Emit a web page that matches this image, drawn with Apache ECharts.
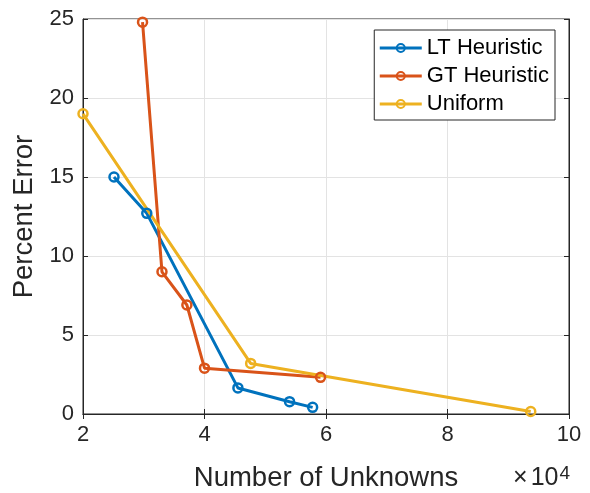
<!DOCTYPE html>
<html>
<head>
<meta charset="utf-8">
<script src="https://cdn.jsdelivr.net/npm/echarts@6/dist/echarts.min.js"></script>
<style>
  html, body { margin: 0; padding: 0; background: #fff; }
  #chart { width: 590px; height: 493px; }
</style>
</head>
<body>
<div id="chart"></div>
<script>
// Percent error versus number of unknowns for three refinement strategies
const seriesNames = ['LT Heuristic', 'GT Heuristic', 'Uniform'];
const ltUnknowns = [25100, 30500, 45500, 54000, 57800];
const ltError = [15.0, 12.7, 1.65, 0.78, 0.42];
const gtUnknowns = [29800, 33000, 37100, 40000, 59100];
const gtError = [24.8, 9.0, 6.9, 2.9, 2.32];
const uniUnknowns = [20000, 47600, 93700];
const uniError = [19.0, 3.2, 0.16];
const xTicks = [2, 4, 6, 8, 10];     // in units of 10^4
const yTicks = [0, 5, 10, 15, 20, 25];

const colors = ['#0072BD', '#D95319', '#EDB120'];
const ink = '#262626';
const font = 'Liberation Sans, Arial, Helvetica, sans-serif';

function pairs(xs, ys) { return xs.map((x, i) => [x, ys[i]]); }

function lineSeries(name, data, color) {
  return {
    name: name,
    type: 'line',
    data: data,
    symbol: 'circle',
    symbolSize: 9,
    lineStyle: { color: color, width: 3 },
    itemStyle: { color: 'rgba(255,255,255,0)', borderColor: color, borderWidth: 2.5 },
    emphasis: { disabled: true },
    animation: false
  };
}

const chart = echarts.init(document.getElementById('chart'), null, { renderer: 'canvas' });

const tickStep = (xTicks[1] - xTicks[0]) * 1e4;
const yStep = yTicks[1] - yTicks[0];

chart.setOption({
  backgroundColor: '#fff',
  animation: false,
  grid: {
    left: 83, right: 21, top: 19, bottom: 79,
    outerBoundsMode: 'none',
    containLabel: false,
    show: true, borderColor: ink, borderWidth: 1, backgroundColor: '#fff'
  },
  legend: {
    data: seriesNames,
    orient: 'vertical',
    right: 35, top: 30,
    padding: [7, 6, 5, 4],
    itemGap: 6,
    itemWidth: 42,
    itemHeight: 10,
    lineStyle: { width: 3 },
    backgroundColor: '#fff',
    borderColor: ink,
    borderWidth: 1,
    textStyle: { fontFamily: font, fontSize: 22, color: '#000', lineHeight: 22, padding: [0, 0, 0, 0] }
  },
  xAxis: [{
    type: 'value',
    min: xTicks[0] * 1e4, max: xTicks[xTicks.length - 1] * 1e4, interval: tickStep,
    name: 'Number of Unknowns',
    nameLocation: 'middle',
    nameGap: 50,
    nameTextStyle: { fontFamily: font, fontSize: 27.5, color: ink },
    axisLine: { show: true, lineStyle: { color: ink, width: 1 } },
    axisTick: { show: true, inside: true, length: 5, lineStyle: { color: ink } },
    axisLabel: { fontFamily: font, fontSize: 22, color: ink, margin: 10,
      formatter: v => String(v / 1e4) },
    splitLine: { show: true, lineStyle: { color: '#e3e3e3', width: 1 } }
  }, {
    type: 'value', position: 'top',
    min: xTicks[0] * 1e4, max: xTicks[xTicks.length - 1] * 1e4, interval: tickStep,
    axisLine: { show: true, lineStyle: { color: ink, width: 1 } },
    axisTick: { show: true, inside: true, length: 5, lineStyle: { color: ink } },
    axisLabel: { show: false },
    splitLine: { show: false }
  }],
  yAxis: [{
    type: 'value',
    min: yTicks[0], max: yTicks[yTicks.length - 1], interval: yStep,
    name: 'Percent Error',
    nameLocation: 'middle',
    nameGap: 38,
    nameTextStyle: { fontFamily: font, fontSize: 27.5, color: ink },
    axisLine: { show: true, lineStyle: { color: ink, width: 1 } },
    axisTick: { show: true, inside: true, length: 5, lineStyle: { color: ink } },
    axisLabel: { fontFamily: font, fontSize: 22, color: ink, margin: 9 },
    splitLine: { show: true, lineStyle: { color: '#e3e3e3', width: 1 } }
  }, {
    type: 'value', position: 'right',
    min: yTicks[0], max: yTicks[yTicks.length - 1], interval: yStep,
    axisLine: { show: true, lineStyle: { color: ink, width: 1 } },
    axisTick: { show: true, inside: true, length: 5, lineStyle: { color: ink } },
    axisLabel: { show: false },
    splitLine: { show: false }
  }],
  graphic: [{
    type: 'text',
    right: 20, bottom: 2,
    style: {
      text: '{m|×}{b|10}{s|4}',
      rich: {
        m: { fontFamily: font, fontSize: 25, fill: ink, padding: [0, 3, 0, 0] },
        b: { fontFamily: font, fontSize: 25, fill: ink },
        s: { fontFamily: font, fontSize: 19, fill: ink, verticalAlign: 'top', padding: [0, 0, 10, 1] }
      }
    }
  }],
  series: [
    lineSeries(seriesNames[0], pairs(ltUnknowns, ltError), colors[0]),
    lineSeries(seriesNames[1], pairs(gtUnknowns, gtError), colors[1]),
    lineSeries(seriesNames[2], pairs(uniUnknowns, uniError), colors[2])
  ]
});
</script>
</body>
</html>
